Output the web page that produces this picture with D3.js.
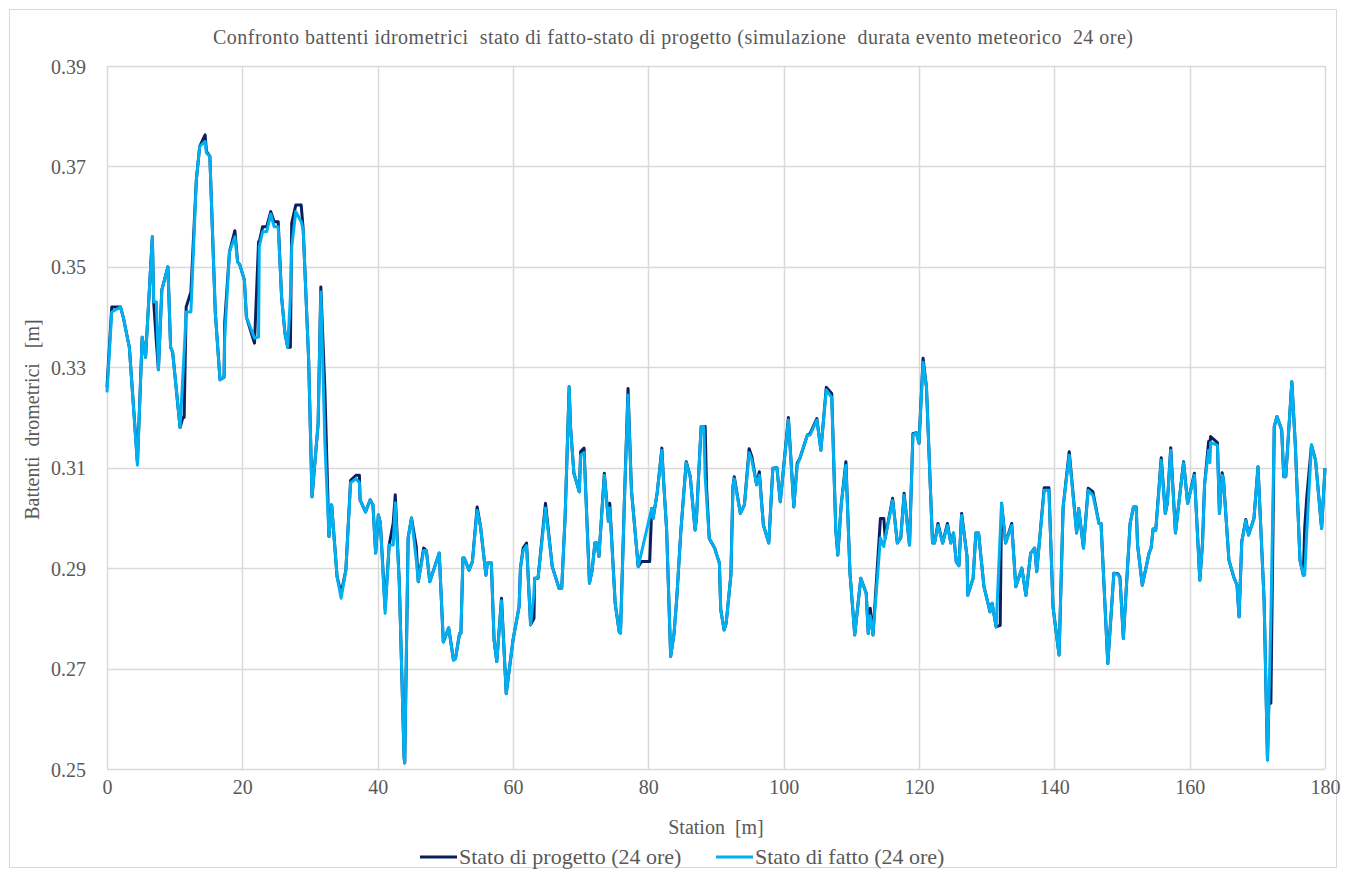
<!DOCTYPE html>
<html>
<head>
<meta charset="utf-8">
<title>Confronto battenti idrometrici</title>
<script src="https://d3js.org/d3.v7.min.js"></script>
<style>
  body { margin: 0; background: #fff; }
  text { font-family: "Liberation Serif", "Times New Roman", serif; fill: #595959; }
</style>
</head>
<body>
<script>
// stations [m] and the two water levels [m]
var stations = [0.0,0.7,2.0,2.4,3.3,4.5,5.2,5.7,6.7,6.9,7.3,7.6,8.1,9.0,9.4,9.7,10.8,11.2,11.4,11.7,12.4,13.2,13.7,14.5,14.7,15.2,16.0,16.7,17.3,17.4,18.1,18.9,19.3,19.6,20.3,20.6,21.8,22.4,22.5,23.0,23.6,24.2,24.7,25.3,25.8,26.3,26.7,27.1,27.3,27.9,28.7,29.0,29.8,30.3,31.2,31.6,32.2,32.8,33.2,34.0,34.6,35.3,36.0,36.8,37.3,37.4,38.2,38.9,39.3,39.7,40.1,40.4,41.1,41.7,42.3,42.6,43.2,43.9,44.0,44.5,45.0,45.7,46.0,46.8,47.2,47.7,49.1,49.7,50.5,51.2,51.5,52.1,52.3,52.6,52.8,53.5,54.0,54.7,55.2,56.0,56.2,56.8,57.2,57.6,58.3,59.0,60.0,60.9,61.1,61.5,62.0,62.2,62.6,63.1,63.2,63.7,64.8,65.8,66.8,67.2,67.7,68.3,68.5,69.0,69.8,70.0,70.5,71.3,71.7,72.1,72.4,72.7,73.5,74.1,74.3,75.1,75.7,75.9,76.5,77.0,77.5,78.5,79.0,80.2,80.5,80.7,81.3,82.0,82.2,82.7,83.3,83.8,84.2,84.8,85.6,86.2,86.9,87.1,87.8,88.2,88.4,88.6,89.0,89.8,90.5,90.7,91.2,91.5,92.2,92.5,92.7,93.6,94.2,94.9,95.3,96.0,96.4,97.0,97.8,98.4,99.0,99.5,100.7,101.5,102.0,102.4,103.5,103.9,104.9,105.5,106.3,107.1,107.7,108.0,108.5,109.2,109.8,110.5,111.4,112.2,112.5,112.8,113.2,114.3,114.8,115.0,116.1,116.8,117.3,117.8,118.6,119.1,119.6,120.0,120.6,121.1,122.0,122.3,122.8,123.5,124.2,124.7,125.1,125.5,125.9,126.3,127.1,127.2,128.0,128.4,128.8,129.6,130.5,130.8,131.4,132.0,132.2,132.8,133.7,134.3,135.2,135.8,136.5,137.1,137.4,138.5,139.2,139.8,140.7,141.3,142.2,143.3,143.6,144.3,145.0,145.7,146.6,146.9,147.9,148.8,149.4,149.7,150.2,151.2,151.7,152.1,152.3,153.0,154.0,154.3,154.6,155.0,155.8,156.4,156.7,157.2,157.9,159.1,159.7,160.7,161.5,161.9,162.2,162.8,163.0,163.1,164.1,164.4,164.8,165.0,165.8,166.5,167.0,167.3,167.7,168.3,168.7,169.5,170.1,171.0,171.5,171.7,172.0,172.5,172.9,173.6,173.9,174.2,175.1,175.6,176.3,176.8,177.0,177.3,178.0,178.6,179.5,180.0];

var progetto = [0.326,0.342,0.342,0.340,0.334,0.311,0.336,0.332,0.356,0.343,0.335,0.3295,0.3454,0.350,0.334,0.333,0.318,0.320,0.320,0.342,0.345,0.3673,0.374,0.3763,0.373,0.372,0.341,0.3275,0.328,0.339,0.353,0.3572,0.351,0.3505,0.3474,0.340,0.3348,0.355,0.355,0.358,0.358,0.361,0.359,0.359,0.344,0.3368,0.334,0.334,0.3587,0.3623,0.3623,0.3573,0.3315,0.3042,0.3188,0.346,0.3255,0.2963,0.3026,0.2883,0.285,0.2896,0.3075,0.3085,0.3085,0.3036,0.3012,0.3036,0.3026,0.293,0.3006,0.299,0.282,0.2946,0.299,0.3046,0.287,0.2524,0.2512,0.296,0.300,0.2943,0.2873,0.294,0.2935,0.2873,0.293,0.2753,0.2781,0.2717,0.272,0.277,0.277,0.292,0.292,0.2896,0.2913,0.3022,0.2983,0.2886,0.291,0.291,0.2757,0.2714,0.284,0.265,0.2757,0.2823,0.290,0.294,0.295,0.2895,0.2787,0.280,0.288,0.288,0.3029,0.2903,0.286,0.286,0.3002,0.3261,0.3182,0.3089,0.3052,0.3132,0.3139,0.287,0.2896,0.295,0.295,0.2923,0.3089,0.2993,0.3029,0.283,0.2773,0.278,0.305,0.3258,0.3056,0.2903,0.2913,0.2913,0.3019,0.2999,0.3049,0.3139,0.3086,0.2977,0.2724,0.277,0.284,0.2973,0.3112,0.3082,0.2976,0.2996,0.3182,0.3182,0.3182,0.3062,0.2959,0.294,0.291,0.2817,0.2777,0.279,0.2886,0.3062,0.3082,0.3009,0.3026,0.3138,0.3122,0.3066,0.3092,0.2986,0.295,0.3099,0.310,0.3032,0.320,0.3022,0.3109,0.3119,0.3165,0.3168,0.3198,0.3135,0.326,0.3248,0.2976,0.2926,0.3026,0.3112,0.289,0.2767,0.288,0.285,0.277,0.282,0.2767,0.2999,0.2999,0.296,0.3039,0.295,0.296,0.3049,0.2946,0.3168,0.317,0.3149,0.3318,0.3261,0.295,0.295,0.2989,0.295,0.2989,0.295,0.297,0.2913,0.2905,0.3009,0.2923,0.2846,0.288,0.297,0.297,0.2863,0.2813,0.283,0.2783,0.2786,0.3029,0.295,0.2989,0.2863,0.290,0.2846,0.293,0.294,0.2893,0.306,0.306,0.2823,0.2727,0.3022,0.3132,0.297,0.3019,0.294,0.3059,0.3052,0.2989,0.2989,0.271,0.289,0.2889,0.2882,0.276,0.2989,0.3022,0.3022,0.2946,0.2866,0.293,0.294,0.2978,0.2978,0.312,0.3009,0.303,0.314,0.297,0.3112,0.3029,0.3089,0.2876,0.295,0.3066,0.3152,0.3152,0.3162,0.315,0.3009,0.309,0.3076,0.2916,0.2883,0.2866,0.2803,0.2953,0.2997,0.2966,0.2999,0.3102,0.2836,0.2518,0.2631,0.2631,0.3182,0.3202,0.3175,0.3082,0.3082,0.3271,0.3149,0.2916,0.2886,0.298,0.304,0.3145,0.3115,0.2979,0.3099];

var fatto = [0.325,0.341,0.342,0.340,0.334,0.3105,0.336,0.332,0.356,0.343,0.343,0.3295,0.3454,0.350,0.334,0.333,0.318,0.328,0.333,0.341,0.341,0.3673,0.374,0.375,0.3727,0.372,0.341,0.3275,0.328,0.336,0.353,0.356,0.351,0.3505,0.3474,0.340,0.3358,0.336,0.354,0.357,0.357,0.3605,0.358,0.358,0.344,0.3368,0.334,0.344,0.354,0.361,0.359,0.3573,0.3315,0.3042,0.3188,0.345,0.315,0.2963,0.3026,0.2883,0.284,0.2896,0.307,0.3078,0.307,0.3036,0.3012,0.3036,0.3026,0.293,0.3006,0.299,0.281,0.2946,0.2946,0.303,0.287,0.2524,0.2512,0.296,0.300,0.2917,0.2873,0.2935,0.2935,0.2873,0.293,0.2753,0.2781,0.2717,0.272,0.277,0.277,0.292,0.292,0.2896,0.2913,0.3015,0.2983,0.2886,0.291,0.291,0.2757,0.2714,0.2835,0.265,0.2757,0.2823,0.290,0.2935,0.2945,0.2895,0.2787,0.285,0.288,0.288,0.302,0.2903,0.286,0.286,0.3002,0.326,0.3182,0.3089,0.3052,0.3125,0.313,0.287,0.2896,0.295,0.295,0.2923,0.3085,0.2993,0.302,0.283,0.2773,0.277,0.305,0.3245,0.3056,0.2903,0.2932,0.3002,0.3019,0.2999,0.3049,0.3135,0.3086,0.2977,0.2724,0.277,0.284,0.2973,0.311,0.3082,0.2976,0.2996,0.3182,0.3182,0.308,0.3042,0.2959,0.294,0.291,0.2817,0.2777,0.279,0.2886,0.3062,0.3078,0.3009,0.3026,0.313,0.3115,0.3066,0.3085,0.2986,0.295,0.3099,0.310,0.3032,0.3195,0.3022,0.3105,0.3119,0.3165,0.3165,0.3195,0.3135,0.3255,0.324,0.2976,0.2926,0.3026,0.3105,0.289,0.2767,0.288,0.285,0.277,0.2805,0.2767,0.296,0.2943,0.296,0.3035,0.295,0.296,0.3045,0.2946,0.3165,0.317,0.3149,0.331,0.3261,0.295,0.295,0.2985,0.295,0.2985,0.295,0.297,0.2913,0.2905,0.3005,0.2923,0.2846,0.288,0.297,0.297,0.2863,0.2813,0.283,0.2783,0.2968,0.3029,0.295,0.2985,0.2863,0.290,0.2846,0.293,0.294,0.2893,0.3055,0.3055,0.2823,0.2727,0.3022,0.3125,0.297,0.3019,0.294,0.3055,0.3045,0.2989,0.2989,0.271,0.289,0.2887,0.288,0.276,0.2989,0.3022,0.3022,0.2946,0.2866,0.293,0.294,0.2978,0.2975,0.3115,0.3009,0.303,0.3135,0.297,0.311,0.3029,0.3085,0.2876,0.295,0.3066,0.3135,0.311,0.315,0.3145,0.3009,0.3085,0.3076,0.2916,0.2883,0.2866,0.2803,0.2953,0.2995,0.2966,0.2999,0.3102,0.2836,0.2518,0.2631,0.28,0.3182,0.3202,0.3175,0.3082,0.3082,0.3271,0.3149,0.2916,0.2886,0.2886,0.297,0.3145,0.3115,0.2979,0.3099];

var xTicks = [0,20,40,60,80,100,120,140,160,180];
var yTicks = [0.25,0.27,0.29,0.31,0.33,0.35,0.37,0.39];
var seriesNames = ["Stato di progetto (24 ore)", "Stato di fatto (24 ore)"];
var seriesColors = ["#0b1f5f", "#00b0f0"];

var W = 1346, H = 876;
var margin = {top: 66, right: 21, bottom: 107, left: 107};

var svg = d3.select("body").append("svg")
  .attr("width", W)
  .attr("height", H);

// outer chart border
svg.append("rect")
  .attr("x", 9.5).attr("y", 9.5)
  .attr("width", W - 19).attr("height", H - 18)
  .attr("fill", "none")
  .attr("stroke", "#d9d9d9");

var x = d3.scaleLinear().domain([0, 180]).range([margin.left, W - margin.right]);
var y = d3.scaleLinear().domain([0.25, 0.39]).range([H - margin.bottom, margin.top]);

// grid
svg.append("g").selectAll("line.h")
  .data(yTicks).enter().append("line")
  .attr("x1", x(0)).attr("x2", x(180))
  .attr("y1", function(d){ return Math.round(y(d)) + 0.5; })
  .attr("y2", function(d){ return Math.round(y(d)) + 0.5; })
  .attr("stroke", "#d9d9d9").attr("stroke-width", 1.5);

svg.append("g").selectAll("line.v")
  .data(xTicks).enter().append("line")
  .attr("y1", y(0.25)).attr("y2", y(0.39))
  .attr("x1", function(d){ return Math.round(x(d)) + 0.5; })
  .attr("x2", function(d){ return Math.round(x(d)) + 0.5; })
  .attr("stroke", "#d9d9d9").attr("stroke-width", 1.5);

// tick labels through the d3 axes, with domain and ticks removed
var yAxis = svg.append("g")
  .attr("transform", "translate(" + (x(0) - 18) + ",0)")
  .call(d3.axisLeft(y).tickValues(yTicks).tickSize(0).tickFormat(d3.format(".2f")));
yAxis.select(".domain").remove();
yAxis.selectAll("text")
  .attr("font-size", 20)
  .attr("font-family", "Liberation Serif")
  .attr("fill", "#595959")
  .attr("dy", "0.35em");

var xAxis = svg.append("g")
  .attr("transform", "translate(0," + (y(0.25) + 8) + ")")
  .call(d3.axisBottom(x).tickValues(xTicks).tickSize(0));
xAxis.select(".domain").remove();
xAxis.selectAll("text")
  .attr("font-size", 20)
  .attr("font-family", "Liberation Serif")
  .attr("fill", "#595959");

// series
var rows = stations.map(function(s, i){ return {s: s, p: progetto[i], f: fatto[i]}; });
var series = [
  rows.map(function(r){ return [r.s, r.p]; }),
  rows.map(function(r){ return [r.s, r.f]; })
];
var line = d3.line()
  .x(function(d){ return x(d[0]); })
  .y(function(d){ return y(d[1]); });

svg.selectAll("path.serie")
  .data(series).enter().append("path")
  .attr("class", "serie")
  .attr("d", line)
  .attr("fill", "none")
  .attr("stroke", function(d, i){ return seriesColors[i]; })
  .attr("stroke-width", 3)
  .attr("stroke-linejoin", "round");

// titles
svg.append("text")
  .attr("x", 673).attr("y", 44)
  .attr("text-anchor", "middle")
  .attr("font-size", 20)
  .attr("textLength", 920)
  .attr("lengthAdjust", "spacing")
  .style("white-space", "pre")
  .text("Confronto battenti idrometrici  stato di fatto-stato di progetto (simulazione  durata evento meteorico  24 ore)");

svg.append("text")
  .attr("x", 716).attr("y", 834)
  .attr("text-anchor", "middle")
  .attr("font-size", 20)
  .style("white-space", "pre")
  .text("Station  [m]");

svg.append("text")
  .attr("transform", "translate(39," + ((y(0.25) + y(0.39)) / 2 + 2) + ") rotate(-90)")
  .attr("text-anchor", "middle")
  .attr("font-size", 20)
  .style("white-space", "pre")
  .text("Battenti  drometrici   [m]");

// legend
var legendX = [420, 716];
var legend = svg.selectAll("g.legend")
  .data(seriesNames).enter().append("g")
  .attr("class", "legend")
  .attr("transform", function(d, i){ return "translate(" + legendX[i] + ",857)"; });

legend.append("line")
  .attr("x1", 0).attr("x2", 37)
  .attr("stroke", function(d, i){ return seriesColors[i]; })
  .attr("stroke-width", 3);

legend.append("text")
  .attr("x", 39).attr("y", 7)
  .attr("font-size", 22)
  .text(function(d){ return d; });
</script>
</body>
</html>
